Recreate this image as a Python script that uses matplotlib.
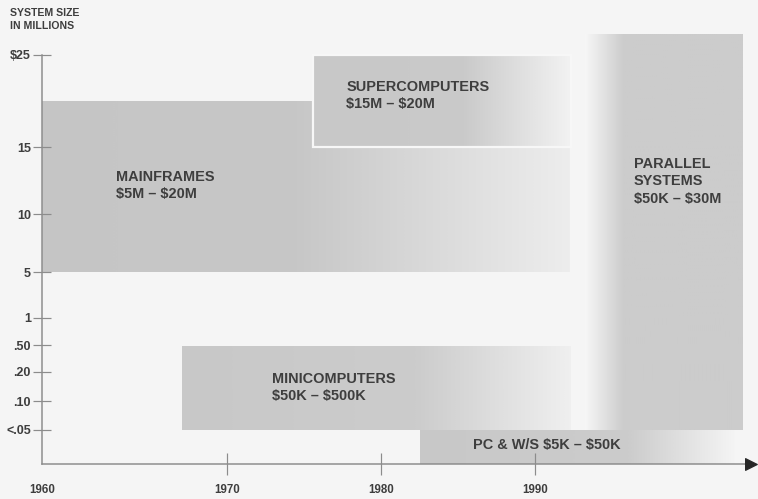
import numpy as np
import matplotlib
matplotlib.use("Agg")
import matplotlib.pyplot as plt
from matplotlib.patches import Rectangle
from matplotlib.ticker import NullLocator

# ---- data -------------------------------------------------------------
classes = [
    "MAINFRAMES\n$5M – $20M",
    "SUPERCOMPUTERS\n$15M – $20M",
    "PARALLEL\nSYSTEMS\n$50K – $30M",
    "MINICOMPUTERS\n$50K – $500K",
    "PC & W/S $5K – $50K",
]
year_start = [1958.0, 1975.6, 1993.2, 1967.1, 1982.5]
year_end = [1992.3, 1992.3, 2003.5, 1992.4, 2003.0]
size_low = [5, 15, 0.05, 0.05, 0.005]      # $ millions
size_high = [20, 25, 30, 0.5, 0.05]        # $ millions

y_tick_values = [0.05, 0.1, 0.2, 0.5, 1, 5, 10, 15, 25]
y_tick_labels = ["<.05", ".10", ".20", ".50", "1", "5", "10", "15", "$25"]
x_tick_years = [1970, 1980, 1990]
x_origin_label = "1960"

# ---- styling / layout ---------------------------------------------------
DPI = 72
BG = "#f5f5f5"
INK = "#3e3e3e"
AXIS = "#8c8c8c"
FONT = ["Liberation Sans", "DejaVu Sans"]
plt.rcParams["font.family"] = FONT
plt.rcParams["font.weight"] = "bold"
plt.rcParams["text.parse_math"] = False

# piecewise size scale (value -> height above the time axis, in px)
scale_values = np.array([0.005, 0.05, 0.1, 0.2, 0.5, 1, 5, 10, 15, 25, 30])
scale_pos = np.array([0, 34, 63, 92, 119, 146, 192, 250, 317, 409.5, 431])


def fwd(v):
    return np.interp(v, scale_values, scale_pos)


def inv(p):
    return np.interp(p, scale_pos, scale_values)


# horizontal shading of each band: (fraction of width, grey level)
shading = [
    [(0.0, 0.775), (0.48, 0.78), (1.0, 0.93)],
    [(0.0, 0.785), (0.58, 0.79), (1.0, 0.95)],
    [(0.0, 0.965), (0.24, 0.80), (1.0, 0.80)],
    [(0.0, 0.785), (0.60, 0.80), (1.0, 0.94)],
    [(0.0, 0.785), (0.66, 0.80), (1.0, 0.96)],
]
# label offsets from each band's top-left corner (points)
label_offsets = [(74, -69), (33, -25), (49, -124), (90, -27), (53, -8)]

W, H = 758, 499
fig = plt.figure(figsize=(W / DPI, H / DPI), dpi=DPI, facecolor=BG)
ax = fig.add_axes([42 / W, (H - 464) / H, (751 - 42) / W, 431 / H])
ax.set_facecolor(BG)
ax.set_yscale("function", functions=(fwd, inv))

for i, label in enumerate(classes):
    x0, x1 = year_start[i], year_end[i]
    y0, y1 = size_low[i], size_high[i]
    fr, g = zip(*shading[i])
    t = np.linspace(0, 1, 400)
    grey = np.interp(t, fr, g)
    img = np.dstack([grey, grey, grey])
    ax.imshow(img, extent=[x0, x1, y0, y1], aspect="auto",
              interpolation="bilinear", zorder=1 + 0.1 * i)
    if i == 1:
        ax.add_patch(Rectangle((x0, y0), x1 - x0, y1 - y0, fill=False,
                               edgecolor="#f7f7f7", lw=2.2, zorder=1.5))
    ax.annotate(label, xy=(x0, y1), xytext=label_offsets[i],
                textcoords="offset points", ha="left", va="top",
                fontsize=14.5, color=INK, fontweight="bold",
                linespacing=1.3, zorder=3, parse_math=False)

ax.set_xlim(1958.0, 2004.0)
ax.set_ylim(0.005, 30)

# axes
for s in ("top", "right"):
    ax.spines[s].set_visible(False)
for s in ("left", "bottom"):
    ax.spines[s].set_color(AXIS)
    ax.spines[s].set_linewidth(1.5)
    ax.spines[s].set_zorder(4)
ax.spines["left"].set_bounds(0.005, 25)

ax.set_yticks(y_tick_values)
ax.set_yticklabels(y_tick_labels)
ax.yaxis.set_minor_locator(NullLocator())
ax.tick_params(axis="y", direction="inout", length=18, width=1.2,
               color=AXIS, labelsize=12.5, labelcolor=INK, pad=2)

ax.set_xticks([1958.0] + x_tick_years)
ax.set_xticklabels([x_origin_label] + [str(y) for y in x_tick_years])
ax.xaxis.set_minor_locator(NullLocator())
ax.tick_params(axis="x", direction="inout", length=22, width=1.2,
               color=AXIS, labelsize=11.5, labelcolor=INK, pad=9)
first = ax.xaxis.get_major_ticks()[0]
first.tick1line.set_visible(False)
first.label1.set_x(1958.3)

# arrow head on the time axis
ax.plot([2004.0], [0.005], marker=">", ms=12, color="#262626",
        clip_on=False, zorder=6)

fig.text(10 / W, 1 - 8 / H, "SYSTEM SIZE\nIN MILLIONS", ha="left", va="top",
         fontsize=10.5, color=INK, fontweight="bold", linespacing=1.4,
         parse_math=False)

fig.savefig("out.png", dpi=DPI, facecolor=BG)
